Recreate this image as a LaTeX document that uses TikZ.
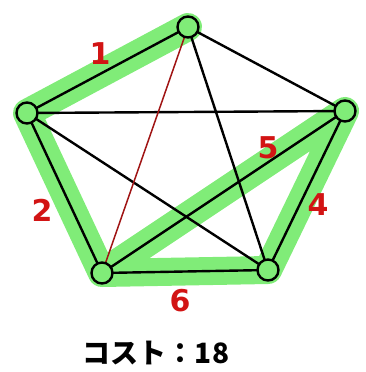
\documentclass[tikz,border=0pt]{standalone}
\usepackage{fontspec}
\setmainfont{DejaVu Sans}
\newfontfamily\jpfont{Noto Sans CJK JP}
\usetikzlibrary{positioning}

\definecolor{hilite}{RGB}{128,236,120}
\definecolor{costred}{RGB}{210,20,20}
\definecolor{edgered}{RGB}{160,20,20}

\begin{document}
\begin{tikzpicture}[x=1pt, y=-1pt,
    city/.style={circle, draw, line width=2.4pt, fill=hilite, minimum size=21pt, inner sep=0pt},
    edge/.style={line width=2.4pt},
    route/.style={hilite, line width=28pt, line cap=round, line join=round},
    cost/.style={text=costred, font=\fontsize{30}{30}\selectfont\bfseries}]
    \useasboundingbox (0,0) rectangle (365,372);
    \coordinate (top)   at (188,27);
    \coordinate (left)  at (27,113);
    \coordinate (right) at (345,111);
    \coordinate (bl)    at (102,273);
    \coordinate (br)    at (268,270);
    % highlighted route
    \draw[route] (top) -- (left) -- (bl) -- (br) -- (right) -- (bl);
    % all edges
    \foreach \a/\b in {top/left,top/right,top/br,left/right,left/bl,left/br,right/bl,right/br,bl/br} {
      \draw[edge] (\a) -- (\b);
    }
    \draw[edgered, line width=1.5pt] (top) -- (bl);
    \foreach \c in {top,left,right,bl,br} {
      \node[city] (n-\c) at (\c) {};
    }
    \node[cost] (c1) at (100,54)  {1};
    \node[cost] (c2) at (42,210)  {2};
    \node[cost] (c5) at (268,148) {5};
    \node[cost] (c4) at (318,205) {4};
    \node[cost] (c6) at (180,301) {6};
    \node[font=\jpfont\fontsize{28}{28}\selectfont\bfseries] (total) at (156,353) {コスト：18};
  \end{tikzpicture}
\end{document}
